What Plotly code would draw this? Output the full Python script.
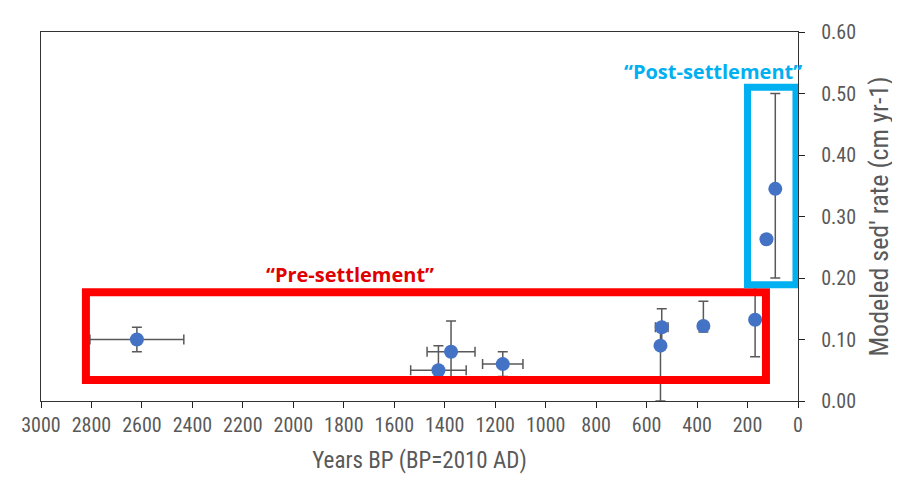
import plotly.graph_objects as go

# Data
years_bp = [2620, 1425, 1375, 1170, 540, 545, 375, 170, 125, 90]
sed_rate = [0.10, 0.05, 0.08, 0.06, 0.12, 0.09, 0.122, 0.132, 0.263, 0.345]
x_err = [186, 110, 95, 80, 25, 0, 15, 0, 0, 0]
y_err_plus = [0.02, 0.04, 0.05, 0.02, 0.03, 0.03, 0.04, 0.06, 0, 0.155]
y_err_minus = [0.02, 0.01, 0.05, 0.02, 0.03, 0.09, 0.01, 0.06, 0, 0.145]

x_ticks = list(range(0, 3001, 200))
y_ticks = [0.0, 0.1, 0.2, 0.3, 0.4, 0.5, 0.6]

FONT = "Liberation Sans Narrow, Roboto Condensed, Open Sans, sans-serif"
GREY_TXT = "#595959"

fig = go.Figure()

fig.add_trace(go.Scatter(
    x=years_bp, y=sed_rate, mode="markers",
    marker=dict(color="#4472c4", size=14),
    error_x=dict(type="data", array=x_err, color="#595959", thickness=1.5, width=5),
    error_y=dict(type="data", array=y_err_plus, arrayminus=y_err_minus,
                 color="#595959", thickness=1.5, width=5),
    showlegend=False,
))

# highlight boxes
fig.add_shape(type="rect", xref="x", yref="y", x0=2822, x1=127, y0=0.034, y1=0.177,
              line=dict(color="#ff0000", width=8), layer="above")
fig.add_shape(type="rect", xref="x", yref="y", x0=200, x1=8, y0=0.189, y1=0.510,
              line=dict(color="#00b0f0", width=7), layer="above")

fig.add_annotation(x=1775, y=0.205, xref="x", yref="y", text="<b>“Pre-settlement”</b>",
                   showarrow=False, font=dict(family="Open Sans, sans-serif", size=20, color="#e00000"))
fig.add_annotation(x=335, y=0.535, xref="x", yref="y", text="<b>“Post-settlement”</b>",
                   showarrow=False, font=dict(family="Open Sans, sans-serif", size=20, color="#00b0f0"))

fig.update_xaxes(
    range=[3000, 0], tickvals=x_ticks, ticks="outside", ticklen=6, tickcolor="#222",
    showline=True, linecolor="#333", linewidth=1.3, mirror=True, showgrid=False, zeroline=False,
    tickfont=dict(family=FONT, size=20, color=GREY_TXT),
    title=dict(text="Years BP (BP=2010 AD)", font=dict(family=FONT, size=23, color=GREY_TXT), standoff=15),
)
fig.update_yaxes(
    range=[0, 0.6], tickvals=y_ticks, tickformat=".2f", side="right", ticks="outside", ticklen=6,
    tickcolor="#222", showline=True, linecolor="#333", linewidth=1.3, mirror=True,
    showgrid=False, zeroline=False, ticklabelstandoff=12,
    tickfont=dict(family=FONT, size=20, color=GREY_TXT),
    title=dict(text="Modeled sed' rate (cm yr-1)", font=dict(family=FONT, size=26, color=GREY_TXT), standoff=14),
)

fig.update_layout(
    width=892, height=472,
    margin=dict(l=33, r=101, t=19, b=77),
    paper_bgcolor="white", plot_bgcolor="white",
)

fig.write_html("out.html")
